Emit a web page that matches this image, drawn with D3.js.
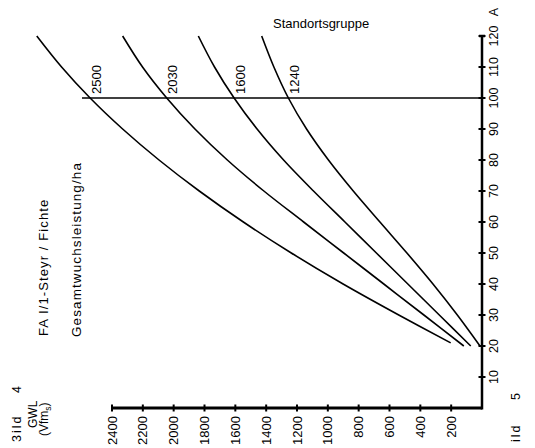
<!DOCTYPE html>
<html>
<head>
<meta charset="utf-8">
<script src="https://cdn.jsdelivr.net/npm/d3@7"></script>
<style>
  html, body { margin: 0; padding: 0; background: #fff; }
  svg { display: block; }
  text { font-family: "Liberation Sans", Arial, Helvetica, sans-serif; fill: #000; }
</style>
</head>
<body>
<svg id="chart" width="535" height="448"></svg>
<script>
// ---- data ----
const ages = [20, 30, 40, 50, 60, 70, 80, 90, 100, 110, 120];
const startAges = [21, 20, 20, 20];            // first age of each curve
const groups = ["2500", "2030", "1600", "1240"];
const gwl2500 = [203, 540, 901, 1237, 1548, 1834, 2095, 2331, 2542, 2727, 2888];
const gwl2030 = [118, 377, 637, 897, 1157, 1415, 1652, 1862, 2045, 2202, 2331];
const gwl1600 = [73, 277, 481, 685, 889, 1093, 1287, 1459, 1608, 1735, 1840];
const gwl1240 = [13, 160, 318, 487, 662, 835, 996, 1138, 1256, 1350, 1429];
const series = [gwl2500, gwl2030, gwl1600, gwl1240];
const ageTicks = [10, 20, 30, 40, 50, 60, 70, 80, 90, 100, 110, 120];
const gwlTicks = [200, 400, 600, 800, 1000, 1200, 1400, 1600, 1800, 2000, 2200, 2400];
const markAge = 100;

const svg = d3.select("#chart");

// rotated chart: GWL runs right->left along the bottom, age runs bottom->top along the right
const x = d3.scaleLinear().domain([0, 2400]).range([482, 112]);
const y = d3.scaleLinear().domain([0, 120]).range([408, 36]);

// GWL axis (bottom)
const gAxisX = svg.append("g");
gAxisX.append("line")
  .attr("x1", x(2400)).attr("x2", x(0)).attr("y1", y(0)).attr("y2", y(0))
  .attr("stroke", "#000").attr("stroke-width", 3);
gAxisX.selectAll("line.tick").data(gwlTicks).join("line")
  .attr("class", "tick")
  .attr("x1", d => x(d)).attr("x2", d => x(d))
  .attr("y1", y(0) - 3.5).attr("y2", y(0) + 3.5)
  .attr("stroke", "#000").attr("stroke-width", 2);
gAxisX.selectAll("text").data(gwlTicks).join("text")
  .attr("transform", d => `translate(${x(d) + 4.5},${y(0) + 8}) rotate(-90)`)
  .attr("text-anchor", "end")
  .attr("font-size", 13)
  .text(d => d);

// Age axis (right)
const gAxisY = svg.append("g");
gAxisY.append("line")
  .attr("x1", x(0)).attr("x2", x(0)).attr("y1", y(0) + 1.5).attr("y2", y(120))
  .attr("stroke", "#000").attr("stroke-width", 2.5);
gAxisY.append("line")
  .attr("x1", x(0) - 3).attr("x2", x(0) + 3).attr("y1", y(120)).attr("y2", y(120))
  .attr("stroke", "#000").attr("stroke-width", 2.5);
gAxisY.selectAll("line.tick").data(ageTicks).join("line")
  .attr("class", "tick")
  .attr("x1", x(0) - 3.5).attr("x2", x(0) + 3.5)
  .attr("y1", d => y(d)).attr("y2", d => y(d))
  .attr("stroke", "#000").attr("stroke-width", 2);
gAxisY.selectAll("text").data(ageTicks).join("text")
  .attr("transform", d => `translate(${x(0) + 16},${y(d)}) rotate(-90)`)
  .attr("text-anchor", "middle")
  .attr("font-size", 12.5)
  .text(d => d);
svg.append("text")
  .attr("transform", `translate(${x(0) + 16},${y(120) - 24}) rotate(-90)`)
  .attr("text-anchor", "middle")
  .attr("font-size", 12.5)
  .text("A");

// reference line at age 100
svg.append("line")
  .attr("x1", 82).attr("x2", x(0))
  .attr("y1", y(markAge)).attr("y2", y(markAge))
  .attr("stroke", "#000").attr("stroke-width", 1.5);

// curves
const line = d3.line()
  .x(d => x(d[1]))
  .y(d => y(d[0]))
  .curve(d3.curveCatmullRom.alpha(0.5));
svg.selectAll("path.curve").data(series).join("path")
  .attr("class", "curve")
  .attr("d", (s, k) => line(ages.map((a, i) => [i === 0 ? startAges[k] : a, s[i]])))
  .attr("fill", "none").attr("stroke", "#000").attr("stroke-width", 1.6);

// curve labels at age 100
svg.selectAll("text.glabel").data(groups).join("text")
  .attr("class", "glabel")
  .attr("transform", (g, i) => `translate(${x(series[i][ages.indexOf(markAge)]) + 10.5},${y(markAge) - 4}) rotate(-90)`)
  .attr("text-anchor", "start")
  .attr("font-size", 13)
  .text(g => g);

// titles
svg.append("text").attr("x", 273).attr("y", 28).attr("font-size", 13).text("Standortsgruppe");

function vtext(tx, ty, str, size, anchor) {
  return svg.append("text")
    .attr("transform", `translate(${tx},${ty}) rotate(-90)`)
    .attr("text-anchor", anchor || "start")
    .attr("font-size", size)
    .text(str);
}
vtext(48, 336, "FA I/1-Steyr / Fichte", 13).attr("letter-spacing", 1.1);
vtext(81, 337, "Gesamtwuchsleistung/ha", 13.5).attr("letter-spacing", 1.1);
vtext(21, 442, "3ild", 12.5).attr("letter-spacing", 2);
vtext(21, 393, "4", 12.5);
vtext(37, 428, "GWL", 12);
const vf = vtext(48, 436, "", 12);
vf.append("tspan").text("(Vfm");
vf.append("tspan").attr("font-size", 8.5).attr("dy", 3).text("s");
vf.append("tspan").attr("dy", -3).text(")");
vtext(520, 442, "ild", 12.5).attr("letter-spacing", 2);
vtext(520, 400, "5", 12.5);
</script>
</body>
</html>
